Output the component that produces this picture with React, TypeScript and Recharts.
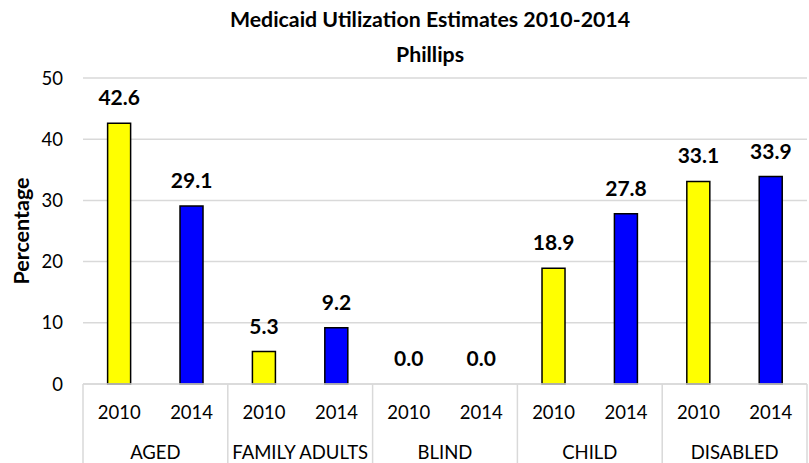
import React from 'react';
import { ComposedChart, Bar, Line, XAxis, YAxis, CartesianGrid, Cell, LabelList } from 'recharts';

const groups = ['AGED', 'AGED', 'FAMILY ADULTS', 'FAMILY ADULTS', 'BLIND', 'BLIND', 'CHILD', 'CHILD', 'DISABLED', 'DISABLED'];
const years = ['2010', '2014', '2010', '2014', '2010', '2014', '2010', '2014', '2010', '2014'];
const values = [42.6, 29.1, 5.3, 9.2, 0.0, 0.0, 18.9, 27.8, 33.1, 33.9];
const yTicks = [0, 10, 20, 30, 40, 50];
const yearColors: Record<string, string> = { '2010': '#FFFF00', '2014': '#0000FF' };

const data = values.map((v, i) => ({ group: groups[i], year: years[i], value: v }));

const FONT = 'Lato, "Open Sans", sans-serif';

const GroupTick = (props: any) => {
  const { x, y, payload, index } = props;
  const off = payload.offset || 0;
  const isFirst = index % 2 === 0;
  const isLast = index === data.length - 1;
  return (
    <g>
      <text x={x} y={y + 28} textAnchor="middle" dominantBaseline="central" fontSize={18.5} fill="#000" fontFamily={FONT}>
        {payload.value}
      </text>
      {isFirst && (
        <>
          <line x1={x - off} y1={y} x2={x - off} y2={y + 90} stroke="#d9d9d9" strokeWidth={1.5} />
          <text x={x + off} y={y + 68} textAnchor="middle" dominantBaseline="central" fontSize={18.5} fill="#000" fontFamily={FONT}>
            {data[index].group}
          </text>
        </>
      )}
      {isLast && <line x1={x + off} y1={y} x2={x + off} y2={y + 90} stroke="#d9d9d9" strokeWidth={1.5} />}
    </g>
  );
};

export default function App() {
  return (
    <div style={{ position: 'absolute', left: 0, top: 0, width: 809, height: 463, background: '#fff' }}>
      <ComposedChart
        width={809}
        height={463}
        data={data}
        margin={{ top: 78, right: 2, bottom: 0, left: 0 }}
        barCategoryGap="34%"
      >
        <text x={430} y={19} textAnchor="middle" dominantBaseline="central" fontSize={21.3} fontWeight="bold" fontFamily={FONT} fill="#000">
          Medicaid Utilization Estimates 2010-2014
        </text>
        <text x={430} y={54} textAnchor="middle" dominantBaseline="central" fontSize={21.3} fontWeight="bold" fontFamily={FONT} fill="#000">
          Phillips
        </text>
        <text
          x={21}
          y={231}
          transform="rotate(-90 21 231)"
          textAnchor="middle"
          dominantBaseline="central"
          fontSize={21.5}
          fontWeight="bold"
          fontFamily={FONT}
          fill="#000"
        >
          Percentage
        </text>
        <CartesianGrid vertical={false} stroke="#d9d9d9" strokeWidth={1.5} />
        <XAxis
          dataKey="year"
          height={79}
          tickLine={false}
          tickSize={0}
          tickMargin={0}
          axisLine={{ stroke: '#d9d9d9', strokeWidth: 1.5 }}
          interval={0}
          tick={<GroupTick />}
        />
        <YAxis
          width={83}
          domain={[0, 50]}
          ticks={yTicks}
          axisLine={false}
          tickLine={false}
          tickMargin={14}
          tick={{ fontSize: 18.5, fill: '#000', fontFamily: FONT }}
        />
        <Bar dataKey="value" isAnimationActive={false} stroke="#000" strokeWidth={1.5}>
          {data.map((d, i) => (
            <Cell key={i} fill={yearColors[d.year]} />
          ))}
        </Bar>
        <Line
          dataKey="value"
          isAnimationActive={false}
          stroke="none"
          dot={false}
          activeDot={false}
          legendType="none"
        >
          <LabelList
            dataKey="value"
            position="top"
            offset={18}
            formatter={(v: any) => Number(v).toFixed(1)}
            style={{ fontSize: 21, fontWeight: 'bold', fill: '#000', fontFamily: FONT }}
          />
        </Line>
      </ComposedChart>
    </div>
  );
}
